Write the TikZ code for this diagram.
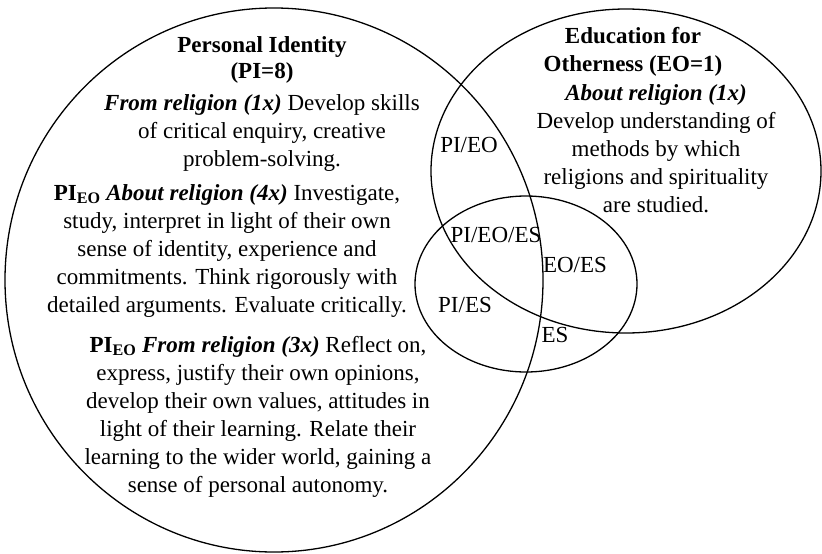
\documentclass[tikz,border=0pt]{standalone}
\usepackage{fontspec}
\setmainfont{Liberation Serif}
\begin{document}
\begin{tikzpicture}[x=1pt,y=-1pt,line width=1.3pt,
  txt/.style={inner sep=0pt,outer sep=0pt,align=center,font=\fontsize{23}{28}\selectfont,anchor=base},
  lbl/.style={inner sep=0pt,outer sep=0pt,font=\fontsize{23}{28}\selectfont,anchor=base}]
\useasboundingbox (0,0) rectangle (822,554);
% sets
\draw (274,280) ellipse [x radius=269,y radius=272];
\draw (626,171) ellipse [x radius=195,y radius=162];
\draw (526,284) ellipse [x radius=111,y radius=88];
% Personal Identity (anchor = baseline of the last line)
\node[txt,font=\fontsize{23}{26.5}\selectfont] (pititle) at (262,78.5) {\textbf{Personal Identity}\\\textbf{(PI=8)}};
\node[txt] (pia) at (262,166) {\textbf{\textit{From religion (1x)}} Develop skills\\of critical enquiry, creative\\problem-solving.};
\node[txt] (pib) at (227,312) {\textbf{PI\textsubscript{EO}} \textbf{\textit{About religion (4x)}} Investigate,\\study, interpret in light of their own\\sense of identity, experience and\\commitments. Think rigorously with\\detailed arguments. Evaluate critically.};
\node[txt] (pic) at (258,492) {\textbf{PI\textsubscript{EO}} \textbf{\textit{From religion (3x)}} Reflect on,\\express, justify their own opinions,\\develop their own values, attitudes in\\light of their learning. Relate their\\learning to the wider world, gaining a\\sense of personal autonomy.};
% Education for Otherness
\node[txt] (eotitle) at (633,71.5) {\textbf{Education for}\\\textbf{Otherness (EO=1)}};
\node[txt] (eoa) at (656,212) {\textbf{\textit{About religion (1x)}}\\Develop understanding of\\methods by which\\religions and spirituality\\are studied.};
% overlap labels
\node[lbl] (pieo) at (469,152) {PI/EO};
\node[lbl] (pieoes) at (496,242) {PI/EO/ES};
\node[lbl] (eoes) at (575,272) {EO/ES};
\node[lbl] (pies) at (465,312) {PI/ES};
\node[lbl] (es) at (555,342) {ES};
\end{tikzpicture}
\end{document}
